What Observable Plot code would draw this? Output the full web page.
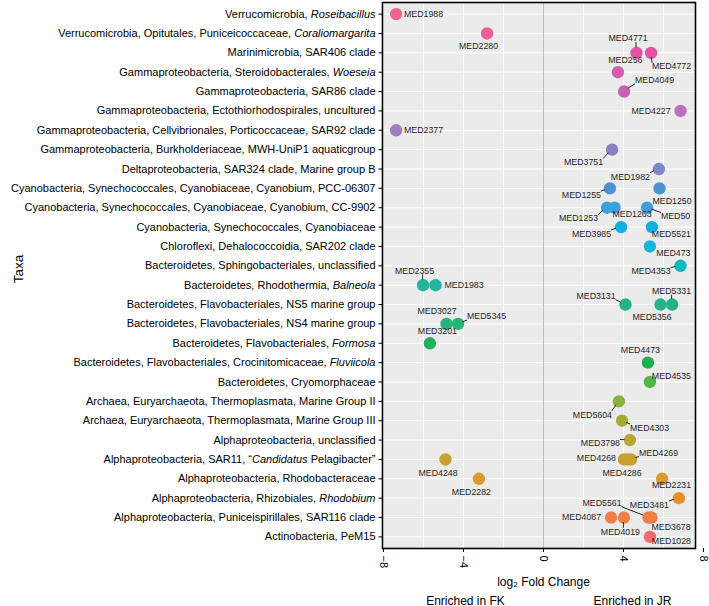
<!DOCTYPE html>
<html><head><meta charset="utf-8">
<script src="https://cdn.jsdelivr.net/npm/d3@7"></script>
<script src="https://cdn.jsdelivr.net/npm/@observablehq/plot@0.6"></script>
<style>
body{margin:0;background:#fff;}
#chart svg{display:block;}
</style></head><body><div id="chart"></div>
<script>
// Taxa, top to bottom
const taxa = [
  "Verrucomicrobia, Roseibacillus",
  "Verrucomicrobia, Opitutales, Puniceicoccaceae, Coraliomargarita",
  "Marinimicrobia, SAR406 clade",
  "Gammaproteobacteria, Steroidobacterales, Woeseia",
  "Gammaproteobacteria, SAR86 clade",
  "Gammaproteobacteria, Ectothiorhodospirales, uncultured",
  "Gammaproteobacteria, Cellvibrionales, Porticoccaceae, SAR92 clade",
  "Gammaproteobacteria, Burkholderiaceae, MWH-UniP1 aquaticgroup",
  "Deltaproteobacteria, SAR324 clade, Marine group B",
  "Cyanobacteria, Synechococcales, Cyanobiaceae, Cyanobium, PCC-06307",
  "Cyanobacteria, Synechococcales, Cyanobiaceae, Cyanobium, CC-9902",
  "Cyanobacteria, Synechococcales, Cyanobiaceae",
  "Chloroflexi, Dehalococcoidia, SAR202 clade",
  "Bacteroidetes, Sphingobacteriales, unclassified",
  "Bacteroidetes, Rhodothermia, Balneola",
  "Bacteroidetes, Flavobacteriales, NS5 marine group",
  "Bacteroidetes, Flavobacteriales, NS4 marine group",
  "Bacteroidetes, Flavobacteriales, Formosa",
  "Bacteroidetes, Flavobacteriales, Crocinitomicaceae, Fluviicola",
  "Bacteroidetes, Cryomorphaceae",
  "Archaea, Euryarchaeota, Thermoplasmata, Marine Group II",
  "Archaea, Euryarchaeota, Thermoplasmata, Marine Group III",
  "Alphaproteobacteria, unclassified",
  "Alphaproteobacteria, SAR11, \u201cCandidatus Pelagibacter\u201d",
  "Alphaproteobacteria, Rhodobacteraceae",
  "Alphaproteobacteria, Rhizobiales, Rhodobium",
  "Alphaproteobacteria, Puniceispirillales, SAR116 clade",
  "Actinobacteria, PeM15"
];
const italicWords = ["Roseibacillus","Coraliomargarita","Woeseia","Balneola","Formosa","Fluviicola","Candidatus","Rhodobium"];

// Points: MED id, taxon row (1 = top), log2 fold change
const ids = ["MED1988","MED2280","MED4771","MED4772","MED256","MED4049","MED4227","MED2377","MED3751","MED1982",
  "MED1255","MED1250","MED1253","MED1263","MED50","MED3985","MED5521","MED473","MED4353","MED2355",
  "MED1983","MED3131","MED5356","MED5331","MED3027","MED5345","MED3201","MED4473","MED4535","MED5604",
  "MED4303","MED3798","MED4248","MED4268","MED4286","MED4269","MED2282","MED2231","MED3481","MED4087",
  "MED4019","MED5561","MED3678","MED1028"];
const rowOf = [1,2,3,3,4,5,6,7,8,9,
  10,10,11,11,11,12,12,13,14,15,
  15,16,16,16,17,17,18,19,20,21,
  22,23,24,24,24,24,25,25,26,27,
  27,27,27,28];
const log2fc = [-7.37,-2.82,4.65,5.38,3.72,4.03,6.85,-7.37,3.43,5.77,
  3.32,5.80,3.18,3.55,5.18,3.88,5.42,5.32,6.85,-6.02,
  -5.40,4.10,5.85,6.43,-4.85,-4.27,-5.68,5.22,5.32,3.77,
  3.93,4.32,-4.90,4.02,4.20,4.38,-3.23,5.93,6.77,3.38,
  4.02,5.25,5.40,5.32];

// Label placement (pixel offsets from point, as placed by the repel layout) and whether a leader line is drawn
const labelDx = [28,-8,-8,21,8,31,-29,28,-28,-28,
  -28,13,-28,18,29,-29,20,24,-29,-8,
  29,-29,-8,0,-9,29,8,-7,22,-26,
  28,-29,-7,-27,-5,28,-7,10,-29,-29,
  -3,-46,20,22];
const labelDy = [0,13,-14,14,-12,-11,0,0,13,8,
  7,13,11,7,9,7,7,7,6,-14,
  0,-8,13,-13,-12,-7,-11.6,-12,-6,13.6,
  7.5,3.5,14,-1,14,-6,14,7,7,0,
  14.5,-14,10,5];
const labelLink = [0,0,1,1,0,1,0,0,1,1,
  1,0,1,0,1,1,0,0,1,1,
  0,1,0,1,0,1,0,0,0,1,
  1,1,0,0,0,1,0,0,1,0,
  1,1,1,0];

const xTicks = [-8,-4,0,4,8];
const gridTicks = [-8,-6,-4,-2,0,2,4,6];
const xTitle = "log\u2082 Fold Change";
const yTitle = "Taxa";
const sideLabels = ["Enriched in FK","Enriched in JR"];
const sideAt = [-3.9, 4.45];

// point colours, bottom row first (as printed)
const palette = ["#F26B6E","#EE7F47","#E68F2C","#D89B2C","#C9A02F","#BDA535","#A6AA38","#8AB13F",
  "#55B648","#1EAE4E","#21B15D","#28B478","#26B38A","#22B59E","#0FB9B9","#12B7DC",
  "#10AEE2","#3DA0DD","#4C93D4","#7E86CC","#8A80C4","#A07CC0","#BD6FBC","#C961AF",
  "#D65CAE","#E0559F","#EA5F96","#F0628F"];

const points = ids.map((id, i) => ({id, taxon: taxa[rowOf[i] - 1], lfc: log2fc[i], i}));
const colorDomain = taxa.slice().reverse();

const font = '"Liberation Sans", Arial, Helvetica, sans-serif';

const chart = Plot.plot({
  width: 709,
  height: 606,
  marginLeft: 382,
  marginRight: 14,
  marginTop: 2,
  marginBottom: 58,
  style: {fontFamily: font, fontSize: "11px", background: "white", color: "black"},
  x: {domain: [-8.05, 7.6]},
  y: {type: "point", domain: taxa, padding: 0.6, round: false},
  color: {type: "ordinal", domain: colorDomain, range: palette},
  marks: [
    Plot.frame({fill: "#EBEBEB", stroke: "none"}),
    Plot.ruleX(gridTicks, {stroke: "white", strokeWidth: 1}),
    Plot.ruleY(taxa, {stroke: "white", strokeWidth: 1}),
    Plot.ruleX([0], {stroke: "#BDBDBD", strokeWidth: 1}),
    Plot.dot(points, {x: "lfc", y: "taxon", r: 6.2, fill: "taxon", stroke: "none"}),
    Plot.frame({stroke: "black", strokeWidth: 1.6, fill: "none"}),
    Plot.axisY({tickSize: 3.5, tickPadding: 3.5, fontSize: 11, label: null}),
    Plot.axisX({ticks: xTicks, tickRotate: 90, tickSize: 4, tickPadding: 3, fontSize: 11, label: null}),
    Plot.text([xTitle], {x: () => 0, text: d => d, frameAnchor: "bottom", dy: 37, fontSize: 12}),
    Plot.text(sideLabels, {x: (d, i) => sideAt[i], text: d => d, frameAnchor: "bottom", dy: 56, fontSize: 12})
  ]
});

document.getElementById("chart").append(chart);

// italic parts in taxon tick labels
const taxaSet = new Set(taxa);
const italicRe = new RegExp("(" + italicWords.join("|") + ")");
d3.select(chart).selectAll("text").each(function () {
  const t = this.textContent;
  if (!taxaSet.has(t)) return;
  const el = d3.select(this);
  el.text(null);
  t.split(italicRe).filter(s => s.length).forEach(part => {
    const ts = el.append("tspan").text(part);
    if (italicWords.includes(part)) ts.attr("font-style", "italic");
  });
});

const NS = "http://www.w3.org/2000/svg";
// y-axis title, centred on the panel
const sy = chart.scale("y"), sx = chart.scale("x");
const midY = (sy.range[0] + sy.range[1]) / 2;
const yt = document.createElementNS(NS, "text");
yt.setAttribute("transform", `translate(18,${midY - 6}) rotate(-90)`);
yt.setAttribute("text-anchor", "middle");
yt.setAttribute("dy", "0.35em");
yt.setAttribute("font-family", font);
yt.setAttribute("font-size", 13.5);
yt.setAttribute("fill", "black");
yt.textContent = yTitle;
chart.appendChild(yt);

// repelled point labels, placed through the plot's own scales
const fx = sx.apply ? v => sx.apply(v) : d3.scaleLinear(sx.domain, sx.range);
const fy = sy.apply ? v => sy.apply(v) : d3.scalePoint(sy.domain, sy.range).padding(sy.padding).align(sy.align ?? 0.5);
const fs = 8.8;
const segG = document.createElementNS(NS, "g");
const txtG = document.createElementNS(NS, "g");
chart.appendChild(segG);
chart.appendChild(txtG);
txtG.setAttribute("font-family", font);
txtG.setAttribute("font-size", fs);
txtG.setAttribute("fill", "#262626");
points.forEach((p, i) => {
  const px = +fx(p.lfc), py = +fy(p.taxon);
  const lx = px + labelDx[i], ly = py + labelDy[i];
  const t = document.createElementNS(NS, "text");
  t.setAttribute("x", lx);
  t.setAttribute("y", ly);
  t.setAttribute("text-anchor", "middle");
  t.setAttribute("dy", "0.35em");
  t.textContent = p.id;
  txtG.appendChild(t);
  if (labelLink[i] === 1) {
    const w = (2.222 + 0.556 * (p.id.length - 3)) * fs;
    const hh = 0.72 * fs;
    const bx0 = lx - w / 2, bx1 = lx + w / 2;
    const by0 = ly - hh / 2 - 0.5, by1 = ly + hh / 2 + 0.5;
    const qx = Math.max(bx0, Math.min(px, bx1));
    const qy = Math.max(by0, Math.min(py, by1));
    const vx = qx - px, vy = qy - py, len = Math.sqrt(vx * vx + vy * vy);
    const r0 = 5;
    if (len > r0 + 1.5) {
      const seg = document.createElementNS(NS, "path");
      seg.setAttribute("d", "M" + (px + vx / len * r0) + "," + (py + vy / len * r0) + "L" + qx + "," + qy);
      seg.setAttribute("stroke", "#111111");
      seg.setAttribute("stroke-width", "0.9");
      seg.setAttribute("fill", "none");
      segG.appendChild(seg);
    }
  }
});
</script>
</body></html>
